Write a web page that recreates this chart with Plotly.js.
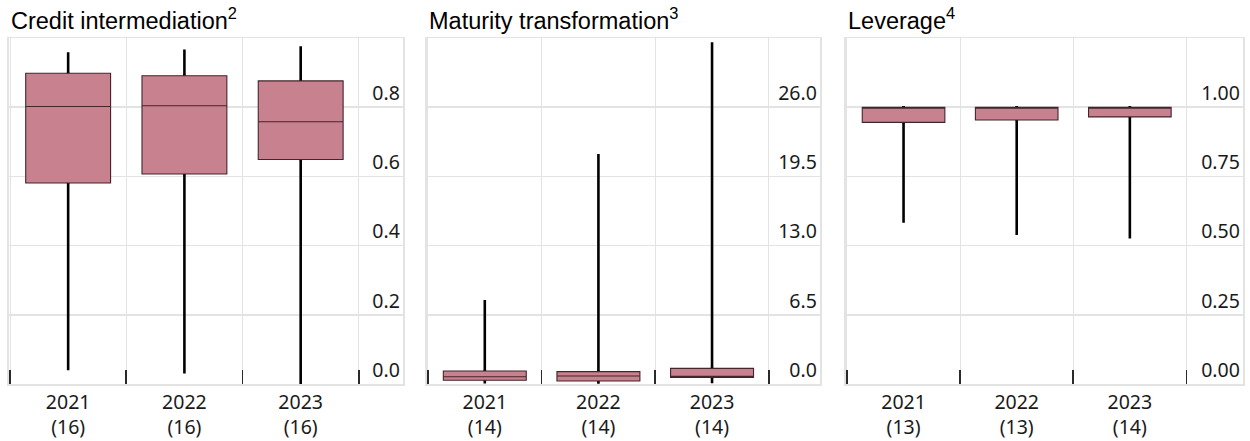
<!DOCTYPE html>
<html>
<head>
<meta charset="utf-8">
<script src="https://cdn.plot.ly/plotly-3.0.1.min.js"></script>
<style>html,body{margin:0;padding:0;background:#fff;}#chart{width:1250px;height:441px;}</style>
</head>
<body>
<div id="chart"></div>
<script>
// ---- data ----
const years = ['2021', '2022', '2023'];
const panelTitles = ['Credit intermediation<sup>2</sup>', 'Maturity transformation<sup>3</sup>', 'Leverage<sup>4</sup>'];

const creditCount = [16, 16, 16];
const creditLower = [0.04, 0.03, 0.0];
const creditQ1 = [0.581, 0.607, 0.649];
const creditMedian = [0.802, 0.804, 0.758];
const creditQ3 = [0.898, 0.891, 0.876];
const creditUpper = [0.959, 0.967, 0.976];

const maturityCount = [14, 14, 14];
const maturityLower = [0.05, 0.02, 0.06];
const maturityQ1 = [0.35, 0.28, 0.62];
const maturityMedian = [0.68, 0.75, 0.68];
const maturityQ3 = [1.22, 1.16, 1.47];
const maturityUpper = [7.9, 21.6, 32.1];

const leverageCount = [13, 13, 14];
const leverageLower = [0.583, 0.538, 0.526];
const leverageQ1 = [0.945, 0.954, 0.965];
const leverageMedian = [1.0, 0.997, 1.0];
const leverageQ3 = [1.0, 1.0, 1.0];
const leverageUpper = [1.0, 1.0, 1.0];

const yTicks1 = [0, 0.2, 0.4, 0.6, 0.8];
const yTicks2 = [0, 6.5, 13, 19.5, 26];
const yTicks3 = [0, 0.25, 0.5, 0.75, 1.0];

// ---- styling ----
const W = 1250, H = 441;
const boxFill = '#c8818f';
const boxLine = '#43252b';
const gridCol = '#e3e3e3';
const tickFont = {family: 'Noto Sans, Open Sans, sans-serif', size: 19.5, color: '#1a1a1a'};
const titleFont = {family: 'Liberation Sans, Arial, sans-serif', size: 23.5, color: '#000'};

const panels = [
  {n: creditCount, lo: creditLower, q1: creditQ1, med: creditMedian, q3: creditQ3, hi: creditUpper,
   px: [8.5, 403], xr: [-0.513, 2.88], yr: [0, 1.0], yt: yTicks1, fmt: '.1f'},
  {n: maturityCount, lo: maturityLower, q1: maturityQ1, med: maturityMedian, q3: maturityQ3, hi: maturityUpper,
   px: [426.5, 820], xr: [-0.513, 2.95], yr: [0, 32.5], yt: yTicks2, fmt: '.1f'},
  {n: leverageCount, lo: leverageLower, q1: leverageQ1, med: leverageMedian, q3: leverageQ3, hi: leverageUpper,
   px: [845.5, 1243], xr: [-0.513, 3.0], yr: [0, 1.25], yt: yTicks3, fmt: '.2f'}
];

const yTop = 38, yBot = 384;
const data = [];
const layout = {
  width: W, height: H,
  margin: {l: 0, r: 0, t: 0, b: 0},
  paper_bgcolor: '#fff', plot_bgcolor: '#fff',
  showlegend: false,
  boxmode: 'overlay',
  annotations: []
};

panels.forEach((p, i) => {
  const s = i === 0 ? '' : String(i + 1);
  const cats = years.map((y, k) => y + '<br>(' + p.n[k] + ')');
  // whiskers (thick black)
  data.push({
    type: 'box', xaxis: 'x' + s, yaxis: 'y' + s,
    x: cats, q1: p.q1, median: p.med, q3: p.q3, lowerfence: p.lo, upperfence: p.hi,
    width: 0.002, whiskerwidth: 0, boxpoints: false,
    line: {color: '#000', width: 2.6}, fillcolor: '#000', hoverinfo: 'skip'
  });
  // boxes
  data.push({
    type: 'box', xaxis: 'x' + s, yaxis: 'y' + s,
    x: cats, q1: p.q1, median: p.med, q3: p.q3, lowerfence: p.q1, upperfence: p.q3,
    width: 0.73, whiskerwidth: 0, boxpoints: false,
    line: {color: boxLine, width: 1.1}, fillcolor: boxFill
  });
  layout['xaxis' + s] = {
    domain: [p.px[0] / W, p.px[1] / W], anchor: 'y' + s,
    type: 'category', categoryorder: 'array', categoryarray: cats,
    range: p.xr, tickson: 'boundaries',
    ticks: 'inside', ticklen: 14, tickwidth: 1.6, tickcolor: '#2a2a2a',
    showgrid: true, gridcolor: gridCol, gridwidth: 1,
    showline: true, linecolor: gridCol, linewidth: 1.5, mirror: true,
    tickfont: tickFont, zeroline: false, fixedrange: true, layer: 'above traces'
  };
  layout['yaxis' + s] = {
    domain: [(H - yBot) / H, (H - yTop) / H], anchor: 'x' + s,
    side: 'right', ticklabelposition: 'inside',
    range: p.yr, tickvals: p.yt, tickformat: p.fmt,
    ticklabelshift: -14, ticklabelstandoff: 4,
    ticks: '', showgrid: true, gridcolor: gridCol, gridwidth: 1.5,
    showline: true, linecolor: gridCol, linewidth: 1.5, mirror: true,
    zeroline: false, tickfont: tickFont, fixedrange: true
  };
  layout.annotations.push({
    text: panelTitles[i], xref: 'paper', yref: 'paper',
    x: (p.px[0] + 0.5) / W, y: (H - 19) / H, xanchor: 'left', yanchor: 'middle',
    showarrow: false, font: titleFont
  });
});

Plotly.newPlot('chart', data, layout, {staticPlot: true, displayModeBar: false});
</script>
</body>
</html>
